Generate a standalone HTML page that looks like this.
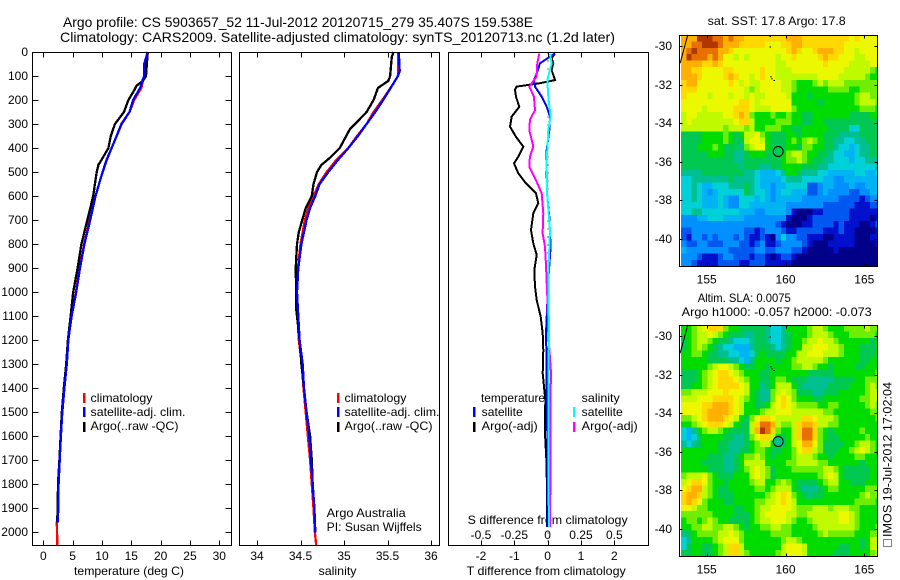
<!DOCTYPE html>
<html lang="en">
<head>
<meta charset="utf-8">
<title>Argo profile CS 5903657_52</title>
<style>
html,body{margin:0;padding:0;background:#fff;width:900px;height:580px;overflow:hidden}
svg{display:block}
text{font-family:"Liberation Sans",sans-serif;font-size:12px;fill:#000}
.t{font-size:14px}
</style>
</head>
<body>
<svg id="root" xmlns="http://www.w3.org/2000/svg" width="900" height="580" viewBox="0 0 900 580">
<rect x="0" y="0" width="900" height="580" fill="#fff"/>
<text class="t" x="63" y="27" textLength="470" lengthAdjust="spacingAndGlyphs">Argo profile: CS 5903657_52 11-Jul-2012 20120715_279 35.407S 159.538E</text>
<text class="t" x="60" y="42" textLength="555" lengthAdjust="spacingAndGlyphs">Climatology: CARS2009. Satellite-adjusted climatology: synTS_20120713.nc (1.2d later)</text>

<text x="74" y="575" textLength="110" lengthAdjust="spacingAndGlyphs">temperature (deg C)</text>
<text x="318.500" y="575" textLength="38" lengthAdjust="spacingAndGlyphs">salinity</text>
<text x="466.700" y="575" textLength="159" lengthAdjust="spacingAndGlyphs">T difference from climatology</text>
<text x="467.700" y="524" textLength="160" lengthAdjust="spacingAndGlyphs">S difference from climatology</text>

<g id="legends">
<rect x="83" y="393" width="2.500" height="10" fill="#f00"/>
<rect x="83" y="407" width="2.500" height="10" fill="#00f"/>
<rect x="83" y="422" width="2.500" height="10" fill="#000"/>
<text x="90.500" y="402" textLength="62" lengthAdjust="spacingAndGlyphs">climatology</text>
<text x="90.500" y="416" textLength="95" lengthAdjust="spacingAndGlyphs">satellite-adj. clim.</text>
<text x="90.500" y="430" textLength="88" lengthAdjust="spacingAndGlyphs">Argo(..raw -QC)</text>

<rect x="337" y="393" width="2.500" height="10" fill="#f00"/>
<rect x="337" y="407" width="2.500" height="10" fill="#00f"/>
<rect x="337" y="422" width="2.500" height="10" fill="#000"/>
<text x="344.500" y="402" textLength="62" lengthAdjust="spacingAndGlyphs">climatology</text>
<text x="344.500" y="416" textLength="95" lengthAdjust="spacingAndGlyphs">satellite-adj. clim.</text>
<text x="344.500" y="430" textLength="88" lengthAdjust="spacingAndGlyphs">Argo(..raw -QC)</text>

<text x="326.700" y="517" textLength="79" lengthAdjust="spacingAndGlyphs">Argo Australia</text>
<text x="326.700" y="531" textLength="95" lengthAdjust="spacingAndGlyphs">PI: Susan Wijffels</text>

<text x="481" y="402" textLength="64" lengthAdjust="spacingAndGlyphs">temperature</text>
<text x="481.700" y="416" textLength="41" lengthAdjust="spacingAndGlyphs">satellite</text>
<text x="481.700" y="430" textLength="56" lengthAdjust="spacingAndGlyphs">Argo(-adj)</text>
<rect x="473" y="407" width="2.500" height="10" fill="#00f"/>
<rect x="473" y="422" width="2.500" height="10" fill="#000"/>
<text x="581.700" y="402" textLength="38" lengthAdjust="spacingAndGlyphs">salinity</text>
<text x="581.700" y="416" textLength="41" lengthAdjust="spacingAndGlyphs">satellite</text>
<text x="581.700" y="430" textLength="56" lengthAdjust="spacingAndGlyphs">Argo(-adj)</text>
<rect x="573" y="407" width="2.500" height="10" fill="#0ff"/>
<rect x="573" y="422" width="2.500" height="10" fill="#f0f"/>
</g>

<text x="707.700" y="25" textLength="138" lengthAdjust="spacingAndGlyphs">sat. SST: 17.8 Argo: 17.8</text>
<text x="697.700" y="302" textLength="93" lengthAdjust="spacingAndGlyphs">Altim. SLA: 0.0075</text>
<text x="681.700" y="316" textLength="190" lengthAdjust="spacingAndGlyphs">Argo h1000: -0.057 h2000: -0.073</text>

<rect x="883.500" y="539.500" width="8" height="7" fill="none" stroke="#000" stroke-width="1" stroke-dasharray="1 1" shape-rendering="crispEdges"/>
<text transform="translate(891.700 537) rotate(-90)" x="0" y="0" textLength="155" lengthAdjust="spacingAndGlyphs">IMOS 19-Jul-2012 17:02:04</text>
</svg>

<script>
const depthTicks = [0,100,200,300,400,500,600,700,800,900,1000,1100,1200,1300,1400,1500,1600,1700,1800,1900,2000];
const tempTicks = [0,5,10,15,20,25,30];
const salTicks = [34,34.5,35,35.5,36];
const tDiffTicks = [-2,-1,0,1,2];
const sDiffTicks = [-0.5,-0.25,0,0.25,0.5];
const lonTicks = [155,160,165];
const latTicks = [-30,-32,-34,-36,-38,-40];

const tempSatDepth = [0,50,100,120,150,200,250,300,350,400,450,500,550,600,700,800,900,1000,1100,1200,1300,1400,1500,1600,1700,1800,1900,1960];
const tempSatValue = [17.8,17.2,17.2,16.9,16.5,15.3,14.7,13.35,12.5,11.65,10.8,10.1,9.5,8.9,8,7,6.25,5.6,4.83,4.26,4,3.6,3.24,3,2.8,2.6,2.55,2.45];
const tempClimDepth = [0,50,100,120,150,200,250,300,350,400,450,500,550,600,700,800,900,1000,1100,1200,1300,1400,1500,1600,1700,1800,1900,1960,2056];
const tempClimValue = [17.9,17.3,17.2,17,16.7,15.5,14.7,13.3,12.5,11.65,10.75,10.1,9.5,8.9,7.9,6.95,6.2,5.55,4.8,4.2,3.95,3.6,3.2,3,2.8,2.6,2.5,2.3,2.4];
const tempArgoDepth = [0,100,120,140,160,200,250,300,350,400,450,470,500,550,600,700,800,900,1000,1100,1200,1300,1400,1500,1600,1700,1800,1900,1960];
const tempArgoValue = [17.8,17.5,17,15.9,15.5,14.5,13.75,12.2,11.5,11.1,9.9,9.4,9.1,8.8,8.5,7.5,6.5,5.85,5.1,4.66,4.2,3.9,3.5,3.15,2.95,2.75,2.5,2.45,2.35];

const salSatDepth = [0,80,100,130,200,250,300,350,400,450,500,550,600,650,700,800,900,1000,1100,1200,1300,1400,1500,1600,1700,1800,1900,2000];
const salSatValue = [35.63,35.64,35.62,35.57,35.45,35.36,35.26,35.16,35.05,34.93,34.82,34.72,34.67,34.61,34.57,34.51,34.475,34.46,34.475,34.49,34.525,34.54,34.57,34.6,34.62,34.64,34.66,34.67];
const salClimDepth = [0,80,100,130,200,250,300,350,400,450,500,550,600,650,700,800,900,1000,1100,1200,1300,1400,1500,1600,1700,1800,1900,2000,2056];
const salClimValue = [35.62,35.62,35.62,35.57,35.44,35.34,35.26,35.15,35.05,34.91,34.8,34.71,34.65,34.59,34.55,34.5,34.47,34.46,34.465,34.48,34.515,34.535,34.56,34.585,34.61,34.63,34.65,34.665,34.68];
const salArgoDepth = [0,20,100,120,150,200,250,280,320,400,440,470,500,550,600,650,700,750,800,900,1000,1070,1200,1300,1500,1600,1700,1800];
const salArgoValue = [35.57,35.55,35.53,35.51,35.39,35.34,35.26,35.18,35.07,34.95,34.84,34.74,34.69,34.65,34.63,34.56,34.52,34.48,34.46,34.445,34.45,34.45,34.49,34.51,34.57,34.61,34.63,34.64];

const tDiffArgoDepth = [6,26,47,75,117,130,144,158,186,228,269,311,353,394,436,464,505,547,589,630,672,741,797,845,908,977,1033,1102,1172,1241,1338,1449,1588,1727,1977];
const tDiffArgoValue = [0.22,0.12,0.17,0.12,0.22,-0.23,-0.93,-0.98,-0.95,-0.85,-1.08,-1.13,-0.95,-0.73,-0.88,-1.01,-0.88,-0.65,-0.35,-0.28,-0.43,-0.5,-0.43,-0.33,-0.4,-0.38,-0.33,-0.21,-0.15,-0.13,-0.15,-0.07,-0.08,-0.03,-0.02];
const tDiffSatDepth = [6,47,89,117,144,186,228,269,325,408,519,603,686,811,950,1172,1310,1449,1588,1727,1977];
const tDiffSatValue = [0.22,-0.23,-0.33,-0.41,-0.38,-0.18,-0.03,0.07,0.05,-0.03,-0.03,-0.01,0.05,0.09,0.02,-0.05,-0.03,-0.03,-0.01,0,0];
const sDiffArgoDepth = [6,47,103,144,186,242,283,325,394,436,478,533,589,672,755,811,880,1019,1172,1338,1463,1824,1977];
const sDiffArgoValue = [-0.0625,-0.078,-0.083,-0.138,-0.103,-0.095,-0.133,-0.138,-0.108,-0.133,-0.138,-0.088,-0.045,-0.033,-0.038,-0.02,-0.013,-0.003,0.005,0.025,0.02,0.02,0.018];
const sDiffSatDepth = [6,47,117,186,269,325,464,603,741,880,1019,1172,1310,1449,1727,1977];
const sDiffSatValue = [0.018,0.03,-0.003,0.005,0.022,0.005,-0.008,-0.003,0.018,0.008,0.005,0.012,0.005,0.005,0.005,0.01];

const colorLevels = ["#000088","#0010cc","#0058f0","#0090ff","#00b4f4","#00d0d8","#00bf90","#00c850","#00dc00","#70ee00","#c0fa00","#ecf800","#ffd800","#ffb000","#e87000","#b03800"];

const sstLevels = [
[13,13,13,15,15,15,14,14,13,14,13,13,12,12,12,12,12,12,12,12,13,13,13,12,12,12,12,12,12,12,12,12,11,12,11,11,11,11],
[13,13,14,14,15,15,15,14,13,13,13,12,12,12,12,12,11,11,11,12,12,13,13,12,12,12,12,12,12,12,12,11,11,11,11,11,11,11],
[13,14,15,14,14,14,14,13,13,12,11,11,11,11,11,11,11,11,11,11,12,13,12,11,11,12,13,13,13,12,12,11,11,10,11,11,11,11],
[13,15,14,14,14,13,14,13,11,11,10,11,10,11,11,11,11,11,10,11,11,12,11,11,11,11,12,13,12,12,11,11,11,10,10,11,11,11],
[13,13,13,13,12,12,13,12,11,11,11,11,11,11,11,11,11,11,10,10,11,11,11,11,11,11,11,12,11,11,11,11,10,10,10,10,11,11],
[13,13,12,12,11,11,11,11,12,12,11,11,11,11,11,12,11,11,10,10,10,11,11,11,11,11,11,11,11,11,11,10,10,10,10,10,9,8],
[13,13,13,12,11,11,11,11,12,13,12,11,11,10,11,12,11,11,10,10,10,10,10,10,10,10,11,11,11,11,10,10,10,10,10,9,8,8],
[12,13,13,11,11,11,11,11,11,12,11,10,11,10,10,11,11,11,11,10,10,9,8,8,8,9,10,9,10,10,10,9,9,9,9,9,9,9],
[12,12,12,11,11,11,11,11,11,11,11,11,10,9,10,11,11,11,11,10,10,9,8,8,8,8,8,8,9,9,9,9,8,8,9,9,9,9],
[12,11,11,11,11,10,11,11,11,10,11,11,10,11,10,10,11,11,11,11,10,8,8,8,7,8,8,8,8,8,8,8,8,9,10,10,9,9],
[11,11,11,11,11,11,11,11,11,11,11,12,12,11,10,11,11,11,11,11,11,8,8,8,8,8,7,8,8,8,8,8,8,9,10,10,10,9],
[11,11,11,11,10,11,11,11,11,11,12,12,12,11,10,10,10,11,11,11,11,9,8,8,8,8,8,8,8,8,8,8,8,8,9,9,9,8],
[10,11,11,10,10,10,10,10,11,11,12,13,12,9,8,8,8,9,8,8,9,8,8,7,7,8,8,8,8,8,8,8,7,7,7,7,8,8],
[10,11,10,10,10,10,10,10,10,10,11,12,12,10,8,8,8,8,9,9,9,8,8,7,7,8,8,7,7,7,7,7,7,7,7,7,7,7],
[10,10,10,10,10,10,10,10,9,10,10,10,9,10,8,8,9,9,9,8,8,7,7,8,8,8,8,8,7,7,7,7,5,5,7,7,7,7],
[7,7,7,7,8,8,8,8,9,8,7,8,10,10,11,9,8,7,7,7,8,8,7,8,8,8,8,7,7,7,6,6,6,6,7,7,7,7],
[7,7,7,7,8,8,8,8,9,8,7,7,10,11,11,10,8,7,7,7,8,9,8,9,10,9,8,7,7,6,6,5,5,6,6,7,7,7],
[7,7,7,8,8,8,9,8,7,7,7,6,9,10,11,11,8,7,7,7,8,8,7,9,9,8,8,7,7,6,5,5,4,5,6,6,7,7],
[7,7,7,7,7,8,8,8,7,7,6,6,7,8,8,8,7,7,7,8,9,10,10,9,8,8,7,7,6,5,5,4,4,5,6,6,7,7],
[7,7,7,7,7,7,7,7,7,7,6,6,7,7,7,7,7,7,7,8,9,9,10,9,8,7,7,6,6,5,5,5,4,5,5,6,6,6],
[7,7,7,7,7,7,7,7,7,7,7,6,7,7,7,6,6,7,7,8,8,8,8,7,7,7,6,6,5,5,5,5,5,5,5,5,5,6],
[6,6,6,6,7,7,7,7,7,7,7,7,6,6,5,4,4,4,5,6,8,8,7,6,6,6,5,5,4,4,4,4,4,5,5,4,4,5],
[5,5,6,6,6,6,6,6,6,7,6,6,6,6,5,4,4,4,4,5,6,6,6,5,5,5,5,4,4,3,3,4,4,4,4,4,4,4],
[5,5,6,5,4,4,5,5,5,6,6,6,7,6,5,4,4,3,4,4,5,5,5,5,2,2,3,4,4,3,3,3,4,3,3,4,4,4],
[5,5,6,5,4,3,4,5,5,5,5,5,7,6,5,5,4,3,4,5,5,4,4,4,2,2,3,4,3,3,3,3,2,2,3,3,4,4],
[5,5,6,5,4,4,4,5,4,3,3,5,5,5,4,5,4,3,4,4,4,4,4,3,3,3,3,3,3,3,2,2,2,2,1,2,3,3],
[5,5,5,5,4,4,4,5,4,3,3,5,5,4,4,4,4,4,4,4,3,3,3,3,3,3,3,2,2,2,2,2,2,1,1,1,2,2],
[5,5,6,6,5,5,5,5,5,5,5,4,4,4,3,3,4,4,4,4,3,1,0,0,0,1,1,2,2,2,2,2,1,1,1,1,1,1],
[3,3,3,4,4,5,5,5,4,4,4,4,3,3,3,3,3,3,3,3,1,0,0,0,1,2,2,2,2,2,2,2,1,1,1,1,0,1],
[3,3,3,3,3,3,3,3,3,3,3,3,3,3,3,3,3,3,2,1,0,0,0,1,1,2,2,2,2,1,2,1,1,1,0,0,1,2],
[2,2,3,3,3,3,3,3,3,3,3,3,2,2,1,2,3,3,3,2,1,1,2,2,2,2,2,1,1,1,2,1,1,0,0,0,0,1],
[2,1,3,3,2,3,2,3,3,3,2,3,2,1,1,2,1,0,3,5,3,3,2,2,1,1,1,0,0,1,1,1,1,0,0,0,1,1],
[3,2,2,3,3,2,2,2,3,3,3,2,2,1,2,3,1,1,2,3,3,3,3,2,1,0,0,0,1,1,1,1,1,0,0,0,0,1],
[4,3,3,3,3,3,3,3,3,2,2,2,2,2,3,3,2,2,3,3,3,2,2,1,0,0,0,0,0,1,0,0,0,0,0,0,0,0],
[3,3,3,2,1,1,1,2,3,3,2,2,2,1,2,2,1,0,1,2,2,1,0,0,0,0,0,0,0,0,0,0,0,0,0,0,0,0],
[3,3,2,1,1,1,1,2,2,2,2,1,1,2,2,2,1,1,1,1,1,0,0,0,0,0,0,0,0,0,0,0,0,0,0,0,0,0]
];

const slaLevels = [
[8,8,9,10,11,12,12,12,9,8,8,7,7,7,7,7,6,5,5,6,8,8,8,8,9,10,10,9,8,8,8,9,9,9,9,10,9,9],
[8,8,9,10,10,11,10,9,8,7,7,7,6,6,7,7,6,5,5,6,7,8,8,8,9,10,10,10,9,8,8,8,9,9,9,9,9,8],
[7,8,9,10,10,9,8,7,7,6,5,5,5,6,7,7,6,5,5,6,7,8,8,9,10,10,11,10,10,9,8,8,8,8,8,8,7,8],
[7,8,9,10,9,8,7,6,5,5,4,4,4,6,7,7,7,6,5,6,7,8,8,10,10,11,11,11,10,10,9,8,8,8,7,7,7,8],
[8,8,9,9,8,7,7,6,6,5,5,4,4,5,7,8,7,7,7,7,8,8,10,10,11,11,11,10,10,10,9,8,8,8,7,7,7,8],
[8,8,8,8,8,7,7,7,7,6,6,5,4,6,8,8,8,8,7,8,8,9,10,10,10,10,10,9,8,8,8,8,8,8,7,7,8,8],
[8,8,8,8,8,9,10,11,11,10,9,8,7,7,8,8,7,8,8,8,8,9,9,10,10,9,8,8,7,8,8,8,8,7,7,8,8,8],
[7,7,7,8,9,10,11,12,12,11,10,9,8,8,8,7,7,8,8,8,8,8,8,8,7,7,7,7,7,8,8,8,8,8,8,8,8,9],
[7,7,7,8,9,10,11,12,12,12,11,10,9,8,8,7,7,8,9,9,8,7,7,7,6,6,6,6,6,7,7,7,7,8,8,9,9,9],
[7,7,8,8,9,10,11,12,12,12,12,11,10,8,8,6,7,8,10,10,10,8,7,6,6,6,6,6,7,7,7,7,8,8,8,9,10,9],
[9,9,10,10,10,11,11,11,12,11,11,11,10,8,7,6,6,9,10,11,10,9,7,7,7,6,6,7,7,7,8,8,8,8,8,9,10,10],
[10,10,10,11,11,11,12,12,12,12,11,10,9,8,7,6,6,9,11,12,11,9,8,8,8,7,7,8,8,8,8,8,8,8,9,9,10,10],
[11,11,11,11,12,12,13,13,13,12,11,10,8,8,7,7,8,10,11,12,11,10,9,9,9,9,8,8,9,9,8,8,8,8,8,9,10,9],
[11,11,11,11,12,13,13,13,13,12,11,10,8,8,8,9,10,10,11,11,11,10,10,10,10,10,10,9,9,8,8,8,8,8,8,8,9,9],
[9,9,10,11,12,13,13,13,12,11,10,8,7,9,11,12,12,11,10,10,10,10,10,12,12,11,10,10,10,9,8,8,8,8,8,8,8,9],
[8,8,9,10,11,12,12,12,11,10,8,7,7,10,12,14,14,13,10,9,9,10,12,13,13,12,10,10,9,9,8,8,8,8,8,8,8,8],
[5,4,6,8,9,10,10,9,8,7,7,7,7,10,13,15,14,12,9,8,8,10,12,14,14,12,9,8,7,8,8,8,8,8,9,8,8,8],
[5,4,5,7,8,8,8,8,7,7,6,6,7,9,11,12,12,10,8,7,8,10,12,14,14,12,9,8,7,7,8,8,8,8,8,9,8,8],
[6,5,6,7,8,8,8,7,7,6,6,6,7,8,9,10,10,8,7,7,8,10,11,13,13,11,9,7,7,7,7,8,8,9,10,10,9,8],
[8,8,8,8,8,8,8,7,7,6,6,7,7,8,9,9,8,7,7,8,8,9,11,12,12,10,9,7,7,7,8,8,9,10,11,10,9,8],
[8,8,8,8,8,7,7,7,6,6,7,8,9,9,10,9,8,7,8,8,8,9,10,10,10,9,8,8,7,8,8,8,8,9,9,8,8,8],
[8,8,8,8,7,7,7,7,6,6,7,8,10,10,10,10,8,8,8,8,9,9,10,10,10,10,9,9,8,8,8,8,8,8,7,8,8,8],
[8,8,8,8,8,7,7,7,6,6,7,8,9,10,11,10,9,7,8,8,8,9,9,9,9,9,9,10,10,9,8,7,7,7,7,7,8,8],
[9,10,10,10,11,9,8,7,7,7,8,8,8,10,11,10,9,7,8,8,8,8,8,8,8,8,9,10,11,10,8,7,7,7,7,7,8,8],
[10,11,12,12,11,9,8,8,7,8,8,8,8,9,10,10,8,8,9,10,9,8,7,7,7,7,8,9,10,10,8,8,7,7,7,8,8,8],
[11,12,13,13,10,9,8,7,7,8,8,8,8,8,9,9,8,9,10,10,10,8,7,6,6,6,7,8,9,9,8,8,8,8,8,9,9,9],
[12,13,13,12,10,9,8,7,7,7,8,8,8,8,8,8,9,10,11,12,11,9,8,7,6,7,7,8,8,8,8,8,8,8,9,10,9,9],
[12,13,12,11,9,8,8,8,7,7,8,8,8,8,9,9,10,10,11,12,11,10,8,8,8,8,8,8,8,8,8,8,8,9,9,9,9,8],
[11,11,10,9,9,8,8,8,8,8,7,7,8,8,9,10,10,11,11,11,11,10,9,9,9,10,10,10,9,10,10,10,9,9,8,8,8,8],
[9,9,9,9,9,9,8,8,8,8,7,7,7,8,9,10,11,11,11,11,10,10,9,9,10,10,10,10,10,10,11,11,10,9,8,8,8,8],
[8,9,9,8,9,10,9,8,8,7,7,7,7,8,9,10,10,11,11,11,10,9,8,8,9,10,10,10,10,10,11,11,10,9,8,8,8,8],
[8,8,9,9,10,10,9,9,10,10,9,8,7,8,8,9,9,10,10,9,9,8,8,8,8,9,10,10,10,10,10,10,10,9,8,8,8,9],
[6,7,8,9,9,9,9,10,10,11,10,9,8,8,8,8,8,9,9,9,9,8,8,8,8,8,9,10,9,9,9,9,9,8,8,8,9,9],
[5,6,8,8,8,8,9,10,11,11,11,9,8,8,8,8,8,8,8,9,10,10,9,8,8,8,8,8,8,8,8,8,8,8,7,8,10,10],
[5,7,8,8,7,7,8,9,10,12,12,10,8,8,8,8,8,8,8,10,11,11,11,10,8,8,8,8,8,8,7,7,8,8,7,8,10,10],
[7,7,8,8,7,7,8,9,10,12,12,10,9,8,8,8,8,8,9,10,11,11,11,10,8,8,8,8,8,7,7,7,8,8,8,8,9,10]
];

const coastLon = [153.8,153.31];
const coastLat = [-29.41,-30.88];
const islandLon = [159.0,159.0,159.05,159.1,159.25];
const islandLat = [-29.45,-30,-31.55,-31.65,-31.75];
const argoLon = 159.538;
const argoLat = -35.407;
const argoSstLevel = 7;
const argoSlaLevel = 6;

const NS = 'http://www.w3.org/2000/svg';
const root = document.getElementById('root');

function make(parent, tag, attrs, text) {
  const el = document.createElementNS(NS, tag);
  for (const k in attrs) el.setAttribute(k, attrs[k]);
  if (text !== undefined) el.textContent = text;
  parent.appendChild(el);
  return el;
}
function linear(d0, d1, r0, r1) {
  return function (v) { return r0 + (v - d0) * (r1 - r0) / (d1 - d0); };
}

const depthY = linear(0, 2000, 52, 532.3);
const tempX = linear(0, 30, 43.3, 219.3);
const salX = linear(34, 36, 257, 431);
const tDiffX = linear(-2, 2, 481, 614.3);
const sDiffX = linear(-0.5, 0.5, 481, 614.3);

function pointsOf(depths, values, xScale) {
  return depths.map(function (d, i) {
    return xScale(values[i]).toFixed(1) + ',' + depthY(d).toFixed(1);
  }).join(' ');
}

function drawLine(parent, depths, values, xScale, color, name, width) {
  const el = make(parent, 'polyline', {
    points: pointsOf(depths, values, xScale),
    fill: 'none', stroke: color, 'stroke-width': width,
    'stroke-linejoin': 'miter', 'shape-rendering': 'crispEdges'
  });
  
  
}

function tick(parent, x1, y1, x2, y2) {
  const el = make(parent, 'line', {
    x1: x1, y1: y1, x2: x2, y2: y2, stroke: '#000', 'stroke-width': 1,
    'shape-rendering': 'crispEdges'
  });
  
  
}

function label(parent, x, y, anchor, str) {
  const el = make(parent, 'text', { x: x, y: y, 'text-anchor': anchor }, str);
  
  
}

function frame(parent, x, y, w, h, name) {
  const el = make(parent, 'rect', {
    x: x, y: y, width: w, height: h, fill: 'none', stroke: '#000',
    'stroke-width': 1, 'shape-rendering': 'crispEdges'
  });
  
  
}

const PTOP = 52.5, PBOT = 545.5;

/* temperature panel */
const tempPanel = make(root, 'g', {});


drawLine(tempPanel, tempClimDepth, tempClimValue, tempX, '#f00', 'temperature-climatology-line', 2.3);
drawLine(tempPanel, tempArgoDepth, tempArgoValue, tempX, '#000', 'temperature-argo-line', 2.3);
drawLine(tempPanel, tempSatDepth, tempSatValue, tempX, '#00f', 'temperature-satellite-line', 2.3);
frame(tempPanel, 32.5, PTOP, 199, PBOT - PTOP, 'temperature-plot-frame');
depthTicks.forEach(function (d) {
  const y = Math.round(depthY(d)) + 0.5;
  tick(tempPanel, 32.5, y, 38.5, y);
  tick(tempPanel, 225.5, y, 231.5, y);
  label(tempPanel, 28, y + 3.5, 'end', String(d));
});
tempTicks.forEach(function (t) {
  const x = Math.round(tempX(t)) + 0.5;
  tick(tempPanel, x, PTOP, x, PTOP + 5);
  tick(tempPanel, x, PBOT - 5, x, PBOT);
  label(tempPanel, tempX(t), 560, 'middle', String(t));
});

/* salinity panel */
const salPanel = make(root, 'g', {});


drawLine(salPanel, salClimDepth, salClimValue, salX, '#f00', 'salinity-climatology-line', 2.3);
drawLine(salPanel, salArgoDepth, salArgoValue, salX, '#000', 'salinity-argo-line', 2.3);
drawLine(salPanel, salSatDepth, salSatValue, salX, '#00f', 'salinity-satellite-line', 2.3);
frame(salPanel, 239.5, PTOP, 200, PBOT - PTOP, 'salinity-plot-frame');
salTicks.forEach(function (s) {
  const x = Math.round(salX(s)) + 0.5;
  tick(salPanel, x, PTOP, x, PTOP + 5);
  tick(salPanel, x, PBOT - 5, x, PBOT);
  label(salPanel, salX(s), 560, 'middle', String(s));
});

/* difference panel */
const diffPanel = make(root, 'g', {});


const zeroLine = make(diffPanel, 'line', {
  x1: tDiffX(0) + 0.5, y1: PTOP, x2: tDiffX(0) + 0.5, y2: PBOT,
  stroke: '#000', 'stroke-width': 1, 'stroke-dasharray': '1 7', 'shape-rendering': 'crispEdges'
});


drawLine(diffPanel, tDiffArgoDepth, tDiffArgoValue, tDiffX, '#000', 't-difference-argo-line', 2);
drawLine(diffPanel, tDiffSatDepth, tDiffSatValue, tDiffX, '#00f', 't-difference-satellite-line', 2);
drawLine(diffPanel, sDiffArgoDepth, sDiffArgoValue, sDiffX, '#f0f', 's-difference-argo-line', 2);
drawLine(diffPanel, sDiffSatDepth, sDiffSatValue, sDiffX, '#0ff', 's-difference-satellite-line', 2);
frame(diffPanel, 448.5, PTOP, 200, PBOT - PTOP, 'difference-plot-frame');
tDiffTicks.forEach(function (t) {
  const x = Math.round(tDiffX(t)) + 0.5;
  tick(diffPanel, x, PTOP, x, PTOP + 5);
  tick(diffPanel, x, PBOT - 5, x, PBOT);
  label(diffPanel, tDiffX(t), 560, 'middle', String(t));
});
sDiffTicks.forEach(function (s) {
  label(diffPanel, sDiffX(s), 539, 'middle', String(s));
});

/* maps */
const lonX = linear(155, 165, 706.7, 864.3);
const LON0 = 153.37, LAT0 = -29.41, CELL = 1 / 3;

function drawMap(levels, top, bottom, name, argoLevel) {
  const latY = linear(-30, -40, top + 10.8, top + 203.5);
  const g = make(root, 'g', {});
  
  
  const clipId = name + '-clip';
  const defs = make(g, 'defs', {});
  const clip = make(defs, 'clipPath', { id: clipId });
  make(clip, 'rect', { x: 679.5, y: top, width: 198, height: bottom - top });
  const cells = make(g, 'g', { 'clip-path': 'url(#' + clipId + ')', 'shape-rendering': 'crispEdges' });
  levels.forEach(function (row, j) {
    row.forEach(function (v, i) {
      const x0 = lonX(LON0 + i * CELL), x1 = lonX(LON0 + (i + 1) * CELL);
      const y0 = latY(LAT0 - j * CELL), y1 = latY(LAT0 - (j + 1) * CELL);
      const c = make(cells, 'rect', {
        x: x0.toFixed(2), y: y0.toFixed(2),
        width: (x1 - x0 + 0.4).toFixed(2), height: (y1 - y0 + 0.4).toFixed(2),
        fill: colorLevels[v]
      });
      
      
    });
  });
  const coast = make(g, 'polyline', {
    points: coastLon.map(function (lo, i) { return lonX(lo).toFixed(1) + ',' + latY(coastLat[i]).toFixed(1); }).join(' '),
    fill: 'none', stroke: '#000', 'stroke-width': 1
  });
  
  
  islandLon.forEach(function (lo, i) {
    const dot = make(g, 'rect', {
      x: lonX(lo).toFixed(1), y: latY(islandLat[i]).toFixed(1), width: 1.2, height: 1.2,
      fill: '#000', 'shape-rendering': 'crispEdges'
    });
    
    
  });
  const marker = make(g, 'circle', {
    cx: lonX(argoLon).toFixed(1), cy: (latY(argoLat) + 1).toFixed(1), r: 5,
    fill: colorLevels[argoLevel], stroke: '#000', 'stroke-width': 1
  });
  
  
  frame(g, 679.5, top, 198, bottom - top, name + '-frame');
  lonTicks.forEach(function (lo) {
    const x = Math.round(lonX(lo)) + 0.5;
    tick(g, x, top, x, top + 3);
    tick(g, x, bottom - 3, x, bottom);
    label(g, lonX(lo), bottom + 17, 'middle', String(lo));
  });
  latTicks.forEach(function (la) {
    const y = Math.round(latY(la)) + 0.5;
    tick(g, 679.5, y, 682.5, y);
    tick(g, 874.5, y, 877.5, y);
    label(g, 672, y + 3.5, 'end', String(la));
  });
}

drawMap(sstLevels, 35.5, 266.5, 'sst-map', argoSstLevel);
drawMap(slaLevels, 325.5, 556.5, 'sla-map', argoSlaLevel);
</script>
</body>
</html>
